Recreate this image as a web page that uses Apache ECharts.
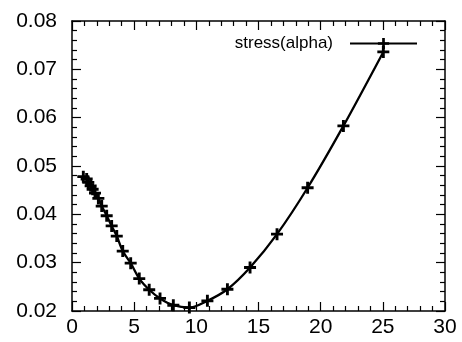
<!DOCTYPE html>
<html>
<head>
<meta charset="utf-8">
<script src="https://cdn.jsdelivr.net/npm/echarts@6/dist/echarts.min.js"></script>
<style>html,body{margin:0;padding:0;background:#fff;}#c{width:462px;height:342px;}</style>
</head>
<body>
<div id="c"></div>
<script>
const seriesName = 'stress(alpha)';
const alphaValues = [0.91, 1.18, 1.31, 1.50, 1.66, 1.85, 2.12, 2.39, 2.79, 3.19, 3.60, 4.08, 4.72, 5.41, 6.21, 7.08, 8.15, 9.44, 10.89, 12.50, 14.32, 16.49, 18.95, 21.83, 25.04];
const stressValues = [0.0478, 0.0473, 0.0466, 0.0459, 0.0452, 0.0444, 0.0433, 0.0417, 0.0397, 0.0376, 0.0355, 0.0324, 0.0299, 0.0267, 0.0244, 0.0226, 0.0212, 0.0207, 0.0221, 0.0245, 0.0290, 0.0359, 0.0455, 0.0583, 0.0736];
const xRange = [0, 30, 5];
const yRange = [0.02, 0.08, 0.01];

const plus = 'path://M3.8,0H6.2V3.8H10V6.2H6.2V10H3.8V6.2H0V3.8H3.8Z';
const font = 'Liberation Sans, Arial, Helvetica, sans-serif';
const chart = echarts.init(document.getElementById('c'), null, {renderer: 'canvas'});

function xAxisDef(pos, showLabel) {
  return {
    type: 'value', position: pos, min: xRange[0], max: xRange[1], interval: xRange[2],
    axisLine: {show: true, onZero: false, lineStyle: {color: '#000', width: 1.5}},
    axisTick: {show: true, inside: true, length: 9, lineStyle: {color: '#000', width: 1.2}},
    minorTick: {show: true, splitNumber: 5, length: 5, lineStyle: {color: '#000', width: 1.2}},
    splitLine: {show: false},
    axisLabel: {show: showLabel, color: '#000', fontSize: 21, fontFamily: font, margin: 6}
  };
}
function yAxisDef(pos, showLabel) {
  return {
    type: 'value', position: pos, min: yRange[0], max: yRange[1], interval: yRange[2],
    axisLine: {show: true, onZero: false, lineStyle: {color: '#000', width: 1.5}},
    axisTick: {show: true, inside: true, length: 9, lineStyle: {color: '#000', width: 1.2}},
    minorTick: {show: true, splitNumber: 5, length: 5, lineStyle: {color: '#000', width: 1.2}},
    splitLine: {show: false},
    axisLabel: {show: showLabel, color: '#000', fontSize: 21, fontFamily: font, margin: 15,
      formatter: v => v.toFixed(2)}
  };
}

chart.setOption({
  animation: false,
  backgroundColor: '#fff',
  grid: {left: 72, right: 17, top: 21, bottom: 31},
  legend: {
    show: true, right: 39, top: 30, align: 'right',
    itemWidth: 67, itemHeight: 14,
    textStyle: {color: '#000', fontSize: 17, fontFamily: font, padding: [0, 12, 0, 0]},
    data: [{name: seriesName}]
  },
  xAxis: [xAxisDef('bottom', true), xAxisDef('top', false)],
  yAxis: [yAxisDef('left', true), yAxisDef('right', false)],
  series: [{
    name: seriesName,
    type: 'line',
    data: alphaValues.map((a, i) => [a, stressValues[i]]),
    smooth: 0.3,
    symbol: plus,
    symbolSize: 12,
    showAllSymbol: true,
    lineStyle: {color: '#000', width: 2.3},
    itemStyle: {color: '#000'}
  }]
});
</script>
</body>
</html>
